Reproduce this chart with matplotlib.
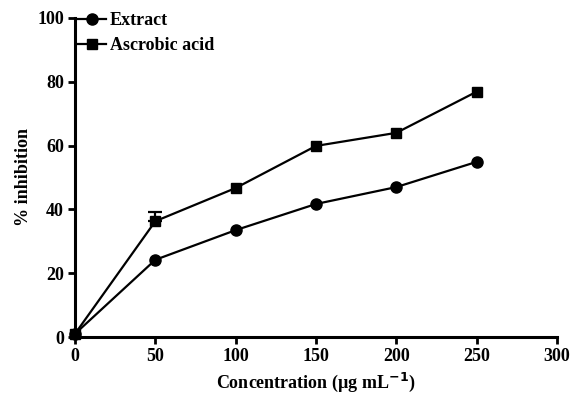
import matplotlib
matplotlib.use("Agg")
import matplotlib.pyplot as plt

conc = [0, 50, 100, 150, 200, 250]
extract = [1.0, 24.2, 33.5, 41.7, 47.0, 54.9]
ascorbic = [1.0, 36.3, 46.7, 59.9, 64.0, 76.9]
# only visible error bar: ascorbic acid at 50 (upper part)
err_x = [50]
err_y = [36.3]
err_up = [2.8]

plt.rcParams['font.family'] = ['Liberation Serif', 'DejaVu Serif']

fig = plt.figure(figsize=(5.72, 3.94), dpi=100)
ax = fig.add_axes([75/572, 1-337/394, (557-75)/572, (337-18)/394])

ax.plot(conc, extract, color='black', marker='o', markersize=8,
        linewidth=1.6, label='Extract', clip_on=False, zorder=3)
ax.plot(conc, ascorbic, color='black', marker='s', markersize=7.5,
        linewidth=1.6, label='Ascrobic acid', clip_on=False, zorder=3)
ax.errorbar(err_x, err_y, yerr=[[0], err_up], fmt='none', ecolor='black',
            elinewidth=1.6, capsize=5, capthick=1.6)

ax.set_xlim(0, 300)
ax.set_ylim(0, 100)
ax.set_xticks([0, 50, 100, 150, 200, 250, 300])
ax.set_yticks([0, 20, 40, 60, 80, 100])
ax.spines['top'].set_visible(False)
ax.spines['right'].set_visible(False)
ax.spines['left'].set_linewidth(2.2)
ax.spines['bottom'].set_linewidth(2.2)
ax.tick_params(axis='both', width=2, length=5, labelsize=13, direction='out', pad=3)
for lab in ax.get_xticklabels() + ax.get_yticklabels():
    lab.set_fontweight('bold')

ax.set_xlabel('Concentration (µg mL$^{\\mathbf{-1}}$)', fontsize=13, fontweight='bold', labelpad=4)
ax.set_ylabel('% inhibition', fontsize=13, fontweight='bold', labelpad=4)

leg = ax.legend(loc='upper left', bbox_to_anchor=(0.005, 1.018), frameon=False, fontsize=13,
                handlelength=1.6, handletextpad=0.2, borderpad=0.0, borderaxespad=0.0,
                labelspacing=0.45)
for t in leg.get_texts():
    t.set_fontweight('bold')

fig.savefig('out.png', dpi=100)
